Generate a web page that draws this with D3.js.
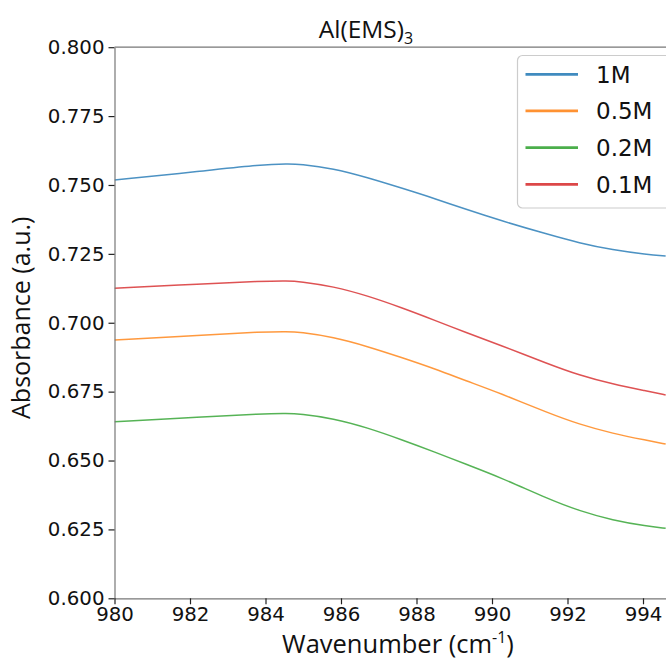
<!DOCTYPE html>
<html>
<head>
<meta charset="utf-8">
<script src="https://cdn.jsdelivr.net/npm/d3@7"></script>
<style>
  html, body { margin: 0; padding: 0; background: #fff; }
  svg { display: block; }
</style>
</head>
<body>
<div id="chart"></div>
<script>
// ---- data ----
const wavenumbers = [980.0, 982.3, 983.9, 984.6, 984.9, 985.8, 986.7, 987.6, 988.5, 989.3, 990.2, 991.5, 992.3, 993.2, 994.1, 994.6];
const seriesNames = ["1M", "0.5M", "0.2M", "0.1M"];
const abs1M   = [0.7518, 0.7550, 0.7574, 0.7577, 0.7576, 0.7560, 0.7527, 0.7489, 0.7450, 0.7412, 0.7372, 0.7320, 0.7290, 0.7264, 0.7248, 0.7242];
const abs05M  = [0.6937, 0.6955, 0.6967, 0.6968, 0.6966, 0.6948, 0.6914, 0.6874, 0.6832, 0.6790, 0.6745, 0.6672, 0.6632, 0.6598, 0.6573, 0.6560];
const abs02M  = [0.6641, 0.6658, 0.6670, 0.6671, 0.6669, 0.6653, 0.6619, 0.6576, 0.6530, 0.6487, 0.6440, 0.6360, 0.6318, 0.6283, 0.6262, 0.6254];
const abs01M  = [0.7125, 0.7141, 0.7151, 0.7152, 0.7150, 0.7132, 0.7098, 0.7055, 0.7008, 0.6965, 0.6920, 0.6850, 0.6810, 0.6777, 0.6752, 0.6738];
const seriesColors = ["#1f77b4", "#ff7f0e", "#2ca02c", "#d62728"];
const xTicks = [980, 982, 984, 986, 988, 990, 992, 994];
const yTicks = [0.600, 0.625, 0.650, 0.675, 0.700, 0.725, 0.750, 0.775, 0.800];
const titleText = "Al(EMS)";
const titleSub = "3";
const xLabel = "Wavenumber (cm";
const xLabelSup = "-1";
const yLabel = "Absorbance (a.u.)";

const seriesValues = [abs1M, abs05M, abs02M, abs01M];

(function () {
  // ---- layout ----
  const W = 666, H = 659;
  const pLeft = 114.5, pTop = 47.2, pBottom = 598.3;
  const unitPx = 37.75;
  const xDomain = [980, 995];
  const pRight = pLeft + (xDomain[1] - xDomain[0]) * unitPx;

  const svg = d3.select("#chart").append("svg")
    .attr("width", W).attr("height", H)
    .attr("viewBox", `0 0 ${W} ${H}`);

  const x = d3.scaleLinear().domain(xDomain).range([pLeft, pRight]);
  const y = d3.scaleLinear().domain([0.6, 0.8]).range([pBottom, pTop]);

  svg.append("clipPath").attr("id", "plotclip")
    .append("rect").attr("x", pLeft).attr("y", pTop)
    .attr("width", pRight - pLeft).attr("height", pBottom - pTop);

  const line = d3.line()
    .x(d => x(d[0])).y(d => y(d[1]))
    .curve(d3.curveBasis);

  const gLines = svg.append("g").attr("clip-path", "url(#plotclip)");
  seriesValues.forEach((vals, i) => {
    gLines.append("path")
      .datum(wavenumbers.map((w, j) => [w, vals[j]]))
      .attr("fill", "none")
      .attr("stroke", seriesColors[i])
      .attr("stroke-opacity", 0.8)
      .attr("stroke-width", 1.5)
      .attr("d", line);
  });

  const tickFont = "'DejaVu Sans', sans-serif";
  const yAxis = d3.axisLeft(y).tickValues(yTicks).tickFormat(d3.format(".3f"))
    .tickSize(6).tickPadding(4).tickSizeOuter(0);
  const xAxis = d3.axisBottom(x).tickValues(xTicks).tickFormat(d3.format("d"))
    .tickSize(6).tickPadding(3).tickSizeOuter(0);

  const gy = svg.append("g").attr("transform", `translate(${pLeft},0)`).call(yAxis);
  const gx = svg.append("g").attr("transform", `translate(0,${pBottom})`).call(xAxis);
  [gx, gy].forEach(g => {
    g.selectAll("text").attr("font-family", tickFont).attr("font-size", 19.8).attr("fill", "#111");
    g.selectAll(".tick line").attr("stroke", "#222").attr("stroke-width", 1.2);
    g.select(".domain").attr("stroke", "#777").attr("stroke-width", 1.2);
  });

  svg.append("line")
    .attr("x1", pLeft).attr("x2", pRight).attr("y1", pTop).attr("y2", pTop)
    .attr("stroke", "#777").attr("stroke-width", 1.2);
  svg.append("line")
    .attr("x1", pRight).attr("x2", pRight).attr("y1", pTop).attr("y2", pBottom)
    .attr("stroke", "#777").attr("stroke-width", 1.2);

  const labelFont = "'Open Sans', sans-serif";
  const t = svg.append("text")
    .attr("x", 366).attr("y", 38)
    .attr("text-anchor", "middle")
    .attr("font-family", labelFont).attr("font-size", 24.5)
    .attr("fill", "#111");
  t.append("tspan").text(titleText);
  t.append("tspan").attr("font-size", 16).attr("dy", 6).text(titleSub);

  const xl = svg.append("text")
    .attr("x", 398).attr("y", 653)
    .attr("text-anchor", "middle")
    .attr("font-family", labelFont).attr("font-size", 25.5)
    .attr("fill", "#111");
  xl.append("tspan").text(xLabel);
  xl.append("tspan").attr("font-size", 16).attr("dy", -10).text(xLabelSup);
  xl.append("tspan").attr("dy", 10).text(")");

  svg.append("text")
    .attr("transform", `translate(30,${(pTop + pBottom) / 2 - 5}) rotate(-90)`)
    .attr("text-anchor", "middle")
    .attr("font-family", labelFont).attr("font-size", 25)
    .attr("fill", "#111")
    .text(yLabel);

  const lg = svg.append("g");
  lg.append("rect")
    .attr("x", 517.5).attr("y", 55.5)
    .attr("width", 200).attr("height", 152.5)
    .attr("rx", 5).attr("ry", 5)
    .attr("fill", "#fff").attr("fill-opacity", 0.85)
    .attr("stroke", "#ccc").attr("stroke-width", 1.2);
  const legendY = d3.scalePoint().domain(seriesNames).range([74.3, 184.3]);
  seriesNames.forEach((name, i) => {
    const yy = legendY(name);
    lg.append("line")
      .attr("x1", 525.5).attr("x2", 578).attr("y1", yy).attr("y2", yy)
      .attr("stroke", seriesColors[i]).attr("stroke-opacity", 0.85).attr("stroke-width", 2.8);
    lg.append("text")
      .attr("x", 596).attr("y", yy + 8.3)
      .attr("font-family", tickFont).attr("font-size", 23)
      .attr("fill", "#111")
      .text(name);
  });
})();
</script>
</body>
</html>
